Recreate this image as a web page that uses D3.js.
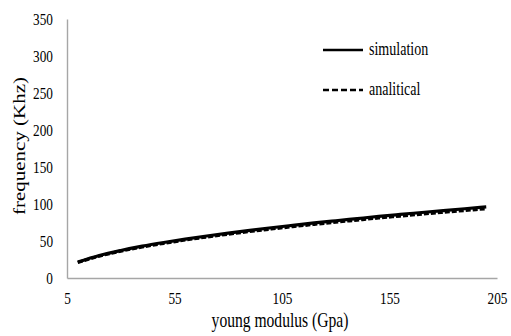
<!DOCTYPE html>
<meta charset="utf-8">
<script src="https://d3js.org/d3.v7.min.js"></script>
<style>
body { margin: 0; background: #fff; }
</style>
<div id="chart"></div>
<script>

// young modulus (Gpa)
var modulus = [10, 20, 30, 40, 50, 60, 70, 80, 90, 100, 110, 120, 130, 140, 150, 160, 170, 180, 190, 200];
// frequency (Khz)
var simulation = [21.5, 30.4, 37.2, 43, 48, 52.6, 56.8, 60.7, 64.4, 67.9, 71.2, 74.4, 77.4, 80.3, 83.2, 85.9, 88.5, 91.1, 93.6, 96];
var analitical = [21, 29.6, 36.3, 41.9, 46.8, 51.3, 55.4, 59.2, 62.8, 66.2, 69.4, 72.5, 75.5, 78.3, 81.1, 83.7, 86.3, 88.8, 91.2, 93.6];
var xTicks = [5, 55, 105, 155, 205];
var yTicks = [0, 50, 100, 150, 200, 250, 300, 350];

var W = 511, H = 336;
var margin = {top: 19, right: 14, bottom: 58, left: 67};
var width = W - margin.left - margin.right,
    height = H - margin.top - margin.bottom;
var FONT = "'Liberation Serif', 'Times New Roman', serif";
var squeeze = 0.78;   // the original text is narrow, squeezed sideways

var svg = d3.select("#chart").append("svg")
    .attr("width", W)
    .attr("height", H)
  .append("g")
    .attr("transform", "translate(" + margin.left + "," + margin.top + ")");

var x = d3.scaleLinear().domain([5, 205]).range([0, width]);
var y = d3.scaleLinear().domain([0, 350]).range([height, 0]);

// axes (grey lines, no tick marks)
var xAxis = svg.append("g")
    .attr("transform", "translate(0," + height + ")")
    .call(d3.axisBottom(x).tickValues(xTicks).tickSize(0).tickPadding(14));
var yAxis = svg.append("g")
    .call(d3.axisLeft(y).tickValues(yTicks).tickSize(0).tickPadding(14));

[xAxis, yAxis].forEach(function(a) {
  a.attr("font-family", null).attr("font-size", null);
  a.select(".domain").attr("stroke", "#a6a6a6").attr("stroke-width", 1.4);
  a.selectAll("text")
    .style("font-family", FONT)
    .style("font-size", "17px")
    .attr("fill", "#000");
});
yAxis.selectAll("text")
    .attr("x", -14 / squeeze)
    .attr("transform", "scale(" + squeeze + ",1)");
xAxis.selectAll("text")
    .attr("transform", "scale(" + squeeze + ",1)");

// axis titles
svg.append("text")
    .attr("transform", "translate(" + (x(105) - 2) + "," + (height + 49) + ") scale(" + squeeze + ",1)")
    .attr("text-anchor", "middle")
    .style("font-family", FONT)
    .style("font-size", "20px")
    .text("young modulus (Gpa)");

svg.append("text")
    .attr("transform", "translate(" + (25 - margin.left) + "," + (146 - margin.top) + ") rotate(-90) scale(1," + squeeze + ")")
    .attr("text-anchor", "middle")
    .style("font-family", FONT)
    .style("font-size", "21px")
    .text("frequency (Khz)");

// the two curves
var line = d3.line()
    .x(function(d) { return x(d[0]); })
    .y(function(d) { return y(d[1]); })
    .curve(d3.curveMonotoneX);

svg.append("path")
    .datum(d3.zip(modulus, analitical))
    .attr("fill", "none")
    .attr("stroke", "#000")
    .attr("stroke-width", 3.2)
    .attr("stroke-dasharray", "5,2")
    .attr("d", line);

svg.append("path")
    .datum(d3.zip(modulus, simulation))
    .attr("fill", "none")
    .attr("stroke", "#000")
    .attr("stroke-width", 3.2)
    .attr("d", line);

// legend
var legend = svg.append("g").attr("transform", "translate(" + (323 - margin.left) + "," + (50 - margin.top) + ")");
var items = [{name: "simulation", dash: null}, {name: "analitical", dash: "6,3"}];
items.forEach(function(d, i) {
  var g = legend.append("g").attr("transform", "translate(0," + (i * 40) + ")");
  g.append("line")
      .attr("x1", 0).attr("x2", 40)
      .attr("stroke", "#000")
      .attr("stroke-width", 2.6)
      .attr("stroke-dasharray", d.dash);
  g.append("text")
      .attr("transform", "translate(46,0) scale(" + squeeze + ",1)")
      .attr("dy", "0.3em")
      .style("font-family", FONT)
      .style("font-size", "18px")
      .text(d.name);
});

</script>
